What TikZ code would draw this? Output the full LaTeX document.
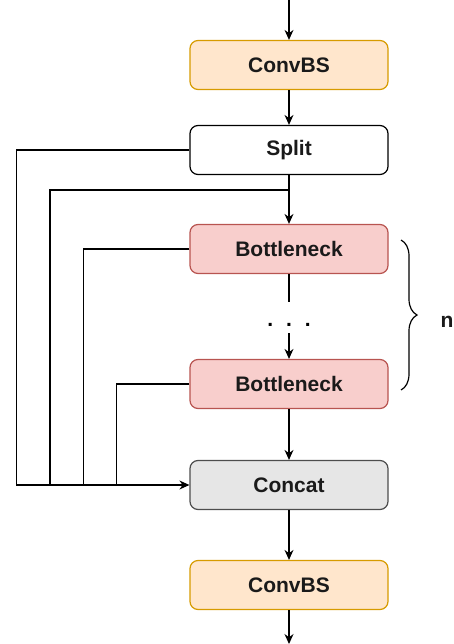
\documentclass[tikz,border=0pt]{standalone}
\usepackage{fontspec}
\setmainfont{Liberation Sans}
\usetikzlibrary{arrows.meta,decorations.pathreplacing}

\definecolor{convfill}{HTML}{FFE6CC}
\definecolor{convline}{HTML}{D79B00}
\definecolor{bottfill}{HTML}{F8CECC}
\definecolor{bottline}{HTML}{B85450}
\definecolor{catfill}{HTML}{E6E6E6}
\definecolor{catline}{HTML}{4D4D4D}
\definecolor{txt}{HTML}{1A1A1A}

\begin{document}
\begin{tikzpicture}[x=1pt, y=-1pt,
  blk/.style={draw, rounded corners=8pt, line width=1.2pt, minimum width=198pt,
    minimum height=49pt, text=txt, font=\fontsize{21}{24}\selectfont\bfseries},
  convbox/.style={blk, fill=convfill, draw=convline},
  splitbox/.style={blk, fill=white, draw=black},
  bottbox/.style={blk, fill=bottfill, draw=bottline},
  catbox/.style={blk, fill=catfill, draw=catline},
  ln/.style={line width=1.2pt},
  arr/.style={ln, -{Stealth[length=10pt,width=9pt]}},
  curly/.style={ln, decorate, decoration={brace, amplitude=16pt}}]
  \useasboundingbox (0,0) rectangle (453,644);

  % main column
  \node[convbox] (conv1) at (289,65) {ConvBS};
  \node[splitbox] (split) at (289,150) {Split};
  \node[bottbox] (b1) at (289,249) {Bottleneck};
  \node[bottbox] (b2) at (289,384) {Bottleneck};
  \node[catbox] (concat) at (289,485) {Concat};
  \node[convbox] (conv2) at (289,585) {ConvBS};

  \coordinate (in) at (289,0);
  \coordinate (out) at (289,644);
  \coordinate (tap) at (289,190);
  \coordinate (gaptop) at (289,302);
  \coordinate (gapbot) at (289,333);
  \node[font=\fontsize{21}{24}\selectfont\bfseries, anchor=base] (dots) at (289,326) {.\hspace{13pt}.\hspace{13pt}.};

  \draw[arr] (in) -- (conv1);
  \draw[arr] (conv1) -- (split);
  \draw[arr] (split) -- (b1);
  \draw[ln] (b1) -- (gaptop);
  \draw[arr] (gapbot) -- (b2);
  \draw[arr] (b2) -- (concat);
  \draw[arr] (concat) -- (conv2);
  \draw[arr] (conv2) -- (out);

  % skip connections into concat
  \coordinate (merge) at ([xshift=-73pt]concat.west);
  \draw[arr] (b2.west) -| (merge) -- (concat.west);
  \draw[ln] (b1.west) -- ++(-106,0) |- (merge);
  \draw[ln] (tap) -- ++(-239,0) |- (merge);
  \draw[ln] (split.west) -- ++(-173,0) |- (merge);

  % repeat brace
  \draw[curly] (401,240) -- (401,390);
  \node[text=txt, font=\fontsize{21}{24}\selectfont\bfseries] (nrep) at (447,322) {n};
\end{tikzpicture}
\end{document}
